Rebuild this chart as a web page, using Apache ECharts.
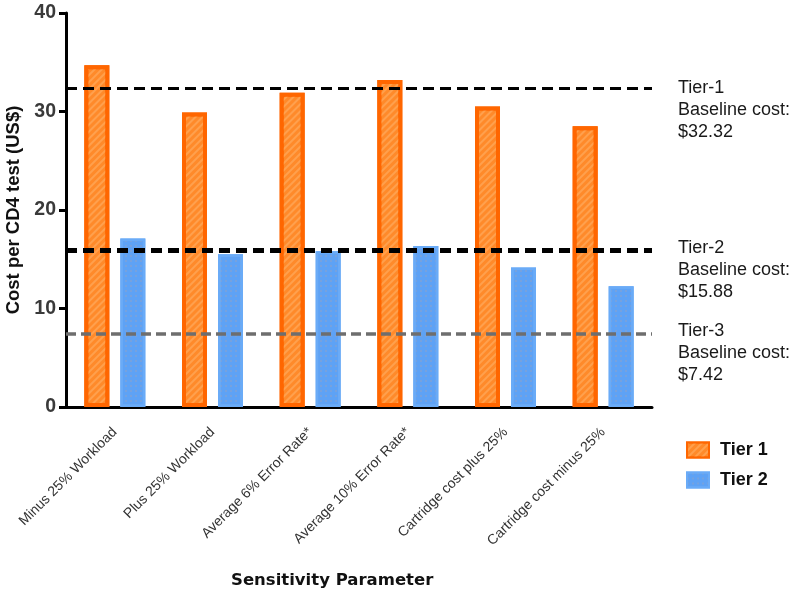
<!DOCTYPE html>
<html>
<head>
<meta charset="utf-8">
<script src="https://cdn.jsdelivr.net/npm/echarts@6/dist/echarts.min.js"></script>
<style>html,body{margin:0;padding:0;background:#fff}#c{width:795px;height:594px}</style>
</head>
<body>
<div id="c"></div>
<script>
var categories = ['Minus 25% Workload','Plus 25% Workload','Average 6% Error Rate*','Average 10% Error Rate*','Cartridge cost plus 25%','Cartridge cost minus 25%'];
var tier1Values = [34.7, 29.9, 31.9, 33.2, 30.5, 28.5];
var tier2Values = [17.1, 15.5, 15.8, 16.35, 14.15, 12.25];
var baselineValues = [32.32, 15.88, 7.42];
var baselineNames = ['Tier-1', 'Tier-2', 'Tier-3'];
var yTicks = [0, 10, 20, 30, 40];

var chart = echarts.init(document.getElementById('c'), null, {renderer: 'canvas'});
var lineStyles = [
  {color: '#000', width: 3, type: [11, 6]},
  {color: '#000', width: 5, type: [11, 6]},
  {color: '#6e6e6e', width: 3.5, type: [10, 5]}
];
var labelOffsets = [-12, -14, -14];
var markData = baselineValues.map(function (v, i) {
  return {
    yAxis: v,
    lineStyle: lineStyles[i],
    label: {
      show: true,
      position: 'end',
      distance: 26,
      formatter: baselineNames[i] + '\nBaseline cost:\n$' + v.toFixed(2),
      fontFamily: 'Liberation Sans, Arial',
      fontSize: 18,
      lineHeight: 22,
      color: '#1a1a1a',
      align: 'left',
      verticalAlign: 'top',
      offset: [0, labelOffsets[i]]
    }
  };
});

chart.setOption({
  animation: false,
  backgroundColor: '#fff',
  title: {
    text: 'Sensitivity Parameter',
    left: 226, top: 567,
    textStyle: {fontFamily: 'DejaVu Sans', fontSize: 16.5, fontWeight: 'bold', color: '#111'}
  },
  grid: {left: 66, right: 143, top: 13, bottom: 187, outerBoundsMode: 'none', containLabel: false},
  legend: {
    orient: 'vertical', left: 681, top: 436, itemWidth: 22, itemHeight: 15, itemGap: 12,
    icon: 'rect',
    data: ['Tier 1', 'Tier 2'],
    textStyle: {fontFamily: 'Liberation Sans, Arial', fontSize: 18, fontWeight: 'bold', color: '#111', padding: [0,0,0,6]}
  },
  xAxis: {
    type: 'category', data: categories,
    axisLine: {lineStyle: {color: '#000', width: 3}},
    axisTick: {alignWithLabel: true, length: 8, lineStyle: {color: '#000', width: 3}},
    axisLabel: {rotate: 45, margin: 23, interval: 0, fontFamily: 'Liberation Sans, Arial', fontSize: 14, color: '#333'}
  },
  yAxis: {
    type: 'value', min: yTicks[0], max: yTicks[yTicks.length - 1], interval: 10,
    name: 'Cost per CD4 test (US$)', nameLocation: 'middle', nameGap: 42,
    nameTextStyle: {fontFamily: 'Liberation Sans, Arial', fontSize: 18.5, fontWeight: 'bold', color: '#111'},
    splitLine: {show: false},
    axisLine: {show: true, lineStyle: {color: '#000', width: 3}},
    axisTick: {show: true, length: 7, lineStyle: {color: '#000', width: 3}},
    axisLabel: {margin: 10, fontFamily: 'Liberation Sans, Arial', fontSize: 19.5, fontWeight: 'bold', color: '#3a3a3a'}
  },
  series: [
    {
      name: 'Tier 1', type: 'bar', data: tier1Values, barWidth: 25, barGap: '44%',
      itemStyle: {
        color: '#ff8a2a', borderColor: '#ff6600', borderWidth: 4,
        decal: {symbol: 'rect', symbolSize: 1, dashArrayX: [1, 0], dashArrayY: [2, 3], rotation: -Math.PI / 4, color: 'rgba(255,175,100,0.6)'}
      }
    },
    {
      name: 'Tier 2', type: 'bar', data: tier2Values, barWidth: 25,
      itemStyle: {
        color: '#5ea2f5', borderColor: '#6aabf7', borderWidth: 2.5,
        decal: {symbol: 'rect', symbolSize: 0.7, dashArrayX: [2, 3], dashArrayY: [2, 3], color: 'rgba(185,165,160,0.5)'}
      }
    },
    {
      name: 'Baselines', type: 'line', data: [], z: 10, silent: true,
      markLine: {symbol: 'none', silent: true, animation: false, data: markData}
    }
  ]
});
</script>
</body>
</html>
